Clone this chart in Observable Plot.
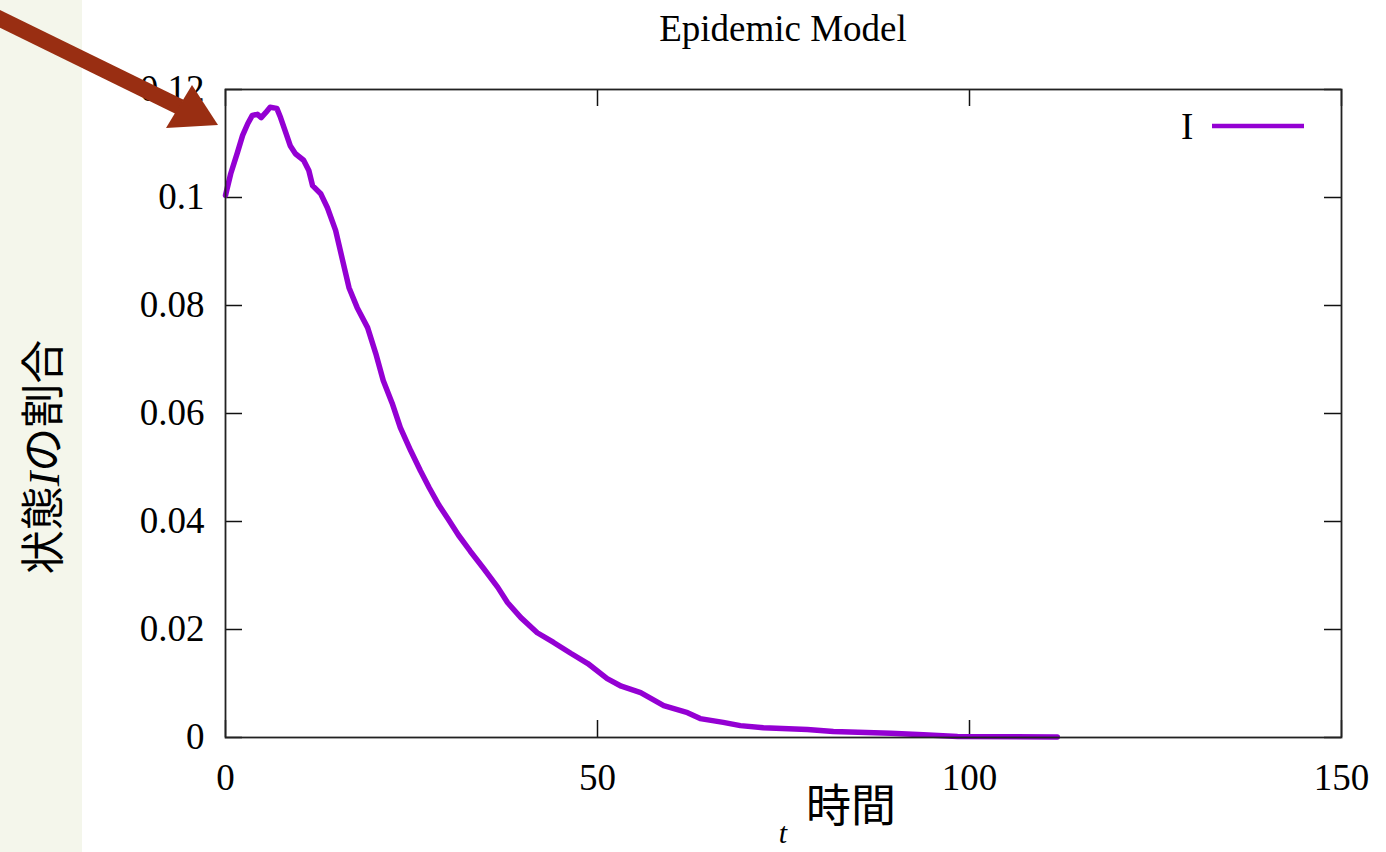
<!DOCTYPE html>
<html>
<head>
<meta charset="utf-8">
<script src="https://cdn.jsdelivr.net/npm/d3@7"></script>
<script src="https://cdn.jsdelivr.net/npm/@observablehq/plot@0.6"></script>
<style>
  html, body { margin: 0; padding: 0; background: #ffffff; width: 1386px; height: 852px; overflow: hidden; }
  #strip { position: absolute; left: 0; top: 0; width: 82px; height: 852px; background: #f4f6eb; }
  #chart { position: absolute; left: 0; top: 0; }
  .txt { position: absolute; color: #000; white-space: nowrap; }
  #title { left: 783px; top: 7px; transform: translateX(-50%); font-family: "Liberation Serif", serif; font-size: 37px; }
  #ylab { left: 40px; top: 457px; transform: translate(-50%, -50%) rotate(-90deg); font-family: "Noto Sans CJK JP", sans-serif; font-size: 44px; }
  #ylab i { font-family: "Liberation Serif", serif; }
  #xlab { left: 851px; top: 776px; transform: translateX(-50%); font-family: "Noto Sans CJK JP", sans-serif; font-size: 45px; line-height: 1.2; }
  #tlab { left: 783px; top: 816px; transform: translateX(-50%); font-family: "Liberation Serif", serif; font-style: italic; font-size: 30px; line-height: 1.1; }
  #legtext { left: 1181px; top: 105px; font-family: "Liberation Serif", serif; font-size: 37px; }
  #overlay { position: absolute; left: 0; top: 0; }
</style>
</head>
<body>
<div id="strip"></div>
<div id="chart"></div>
<div id="title" class="txt">Epidemic Model</div>
<div id="ylab" class="txt">状態<i>I</i>の割合</div>
<div id="xlab" class="txt">時間</div>
<div id="tlab" class="txt">t</div>
<div id="legtext" class="txt">I</div>
<svg id="overlay" width="1386" height="852">
  <line x1="1212" y1="126" x2="1304" y2="126" stroke="#9400D3" stroke-width="4.5"></line>
  <line x1="-10" y1="14" x2="180" y2="107" stroke="#992e12" stroke-width="16"></line>
  <polygon points="218,125 166,128 192,85" fill="#992e12"></polygon>
</svg>
<script>
// Data
const tValues = [0, 0.7, 1.6, 2.3, 3.0, 3.6, 4.3, 4.8, 5.4, 6.0, 6.9, 7.4, 8.1, 8.7, 9.4, 10.5, 11.2, 11.7, 12.8, 13.7, 14.8, 15.7, 16.6, 17.7, 19.1, 20.2, 21.2, 22.4, 23.5, 24.9, 26.2, 27.4, 28.7, 29.9, 31.3, 32.9, 34.7, 36.6, 37.9, 39.7, 41.9, 44.1, 46.4, 48.7, 51.3, 53.2, 55.8, 58.9, 62.1, 63.8, 66.9, 69.2, 72.3, 78.2, 81.7, 89.4, 93.8, 98.4, 111.8];
const iValues = [0.1004, 0.1044, 0.1083, 0.1115, 0.1137, 0.1152, 0.1154, 0.1148, 0.1157, 0.1167, 0.1165, 0.1148, 0.1120, 0.1096, 0.1081, 0.1069, 0.1050, 0.1022, 0.1007, 0.0981, 0.0939, 0.0886, 0.0833, 0.0796, 0.0759, 0.0711, 0.0661, 0.0619, 0.0574, 0.0531, 0.0494, 0.0462, 0.0430, 0.0405, 0.0375, 0.0345, 0.0313, 0.0278, 0.0250, 0.0222, 0.0194, 0.0176, 0.0156, 0.0137, 0.0109, 0.0095, 0.0083, 0.0059, 0.0046, 0.0035, 0.0028, 0.0022, 0.0018, 0.0015, 0.0011, 0.0008, 0.0005, 0.0002, 0.0001];
const xTicks = [0, 50, 100, 150];
const xTickLabels = ["0", "50", "100", "150"];
const yTicks = [0, 0.02, 0.04, 0.06, 0.08, 0.1, 0.12];
const yTickLabels = ["0", "0.02", "0.04", "0.06", "0.08", "0.1", "0.12"];

const series = tValues.map((t, i) => ({t, v: iValues[i]}));

const W = 1386, H = 852, mL = 225, mR = 45, mT = 89, mB = 115;
const fw = W - mL - mR, fh = H - mT - mB, tk = 17;

const chart = Plot.plot({
  width: W, height: H,
  marginLeft: mL, marginRight: mR, marginTop: mT, marginBottom: mB,
  style: {background: "transparent", fontFamily: "Liberation Serif, serif", fontSize: "37px", color: "#000", overflow: "visible"},
  x: {domain: [0, 150]},
  y: {domain: [0, 0.12]},
  marks: [
    Plot.axisX(xTicks, {tickSize: 0, tickPadding: 26, label: null, fontSize: 37, tickFormat: d => xTickLabels[xTicks.indexOf(d)]}),
    Plot.axisY(yTicks, {tickSize: 0, tickPadding: 21, label: null, fontSize: 37, tickFormat: d => yTickLabels[yTicks.indexOf(d)]}),
    Plot.ruleY(yTicks, {insetRight: fw - tk, stroke: "#111", strokeWidth: 1.5}),
    Plot.ruleY(yTicks, {insetLeft: fw - tk, stroke: "#111", strokeWidth: 1.5}),
    Plot.ruleX(xTicks, {insetTop: fh - tk, stroke: "#111", strokeWidth: 1.5}),
    Plot.ruleX(xTicks, {insetBottom: fh - tk, stroke: "#111", strokeWidth: 1.5}),
    Plot.line(series, {x: "t", y: "v", stroke: "#9400D3", strokeWidth: 5.5, strokeLinejoin: "round"}),
    Plot.frame({stroke: "#222", strokeWidth: 1.8})
  ]
});
document.getElementById("chart").appendChild(chart);
</script>
</body>
</html>
